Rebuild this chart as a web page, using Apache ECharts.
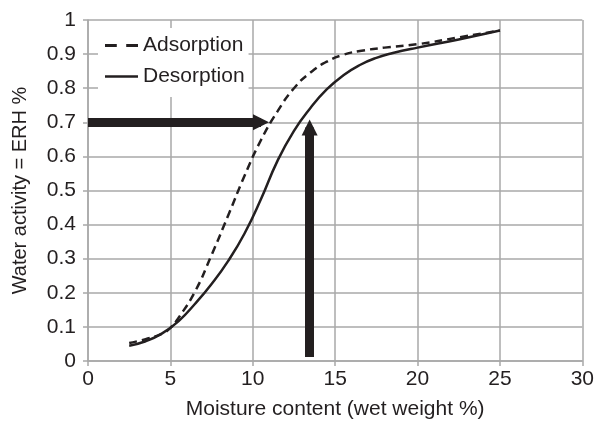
<!DOCTYPE html>
<html>
<head>
<meta charset="utf-8">
<script src="https://cdn.jsdelivr.net/npm/echarts@6/dist/echarts.min.js"></script>
<style>
  html, body { margin: 0; padding: 0; background: #fff; }
  #chart { width: 597px; height: 425px; }
</style>
</head>
<body>
<div id="chart"></div>
<script>
// Moisture sorption isotherms: [moisture content %, water activity]
const adsorption = [
  [2.5, 0.053], [3.5, 0.064], [4.5, 0.08], [5.0, 0.097], [5.5, 0.127], [6.5, 0.204],
  [7.5, 0.311], [8.5, 0.426], [9.5, 0.543], [10.5, 0.648], [11.5, 0.732], [12.5, 0.8],
  [13.5, 0.846], [14.5, 0.878], [15.5, 0.898], [16.5, 0.909], [18.0, 0.919],
  [20.0, 0.929], [22.5, 0.949], [25.0, 0.969]
];
const desorption = [
  [2.5, 0.045], [3.5, 0.058], [4.5, 0.081], [5.5, 0.117], [6.5, 0.168], [7.5, 0.226],
  [8.5, 0.293], [9.5, 0.374], [10.5, 0.475], [11.5, 0.587], [12.5, 0.675], [13.5, 0.742],
  [14.5, 0.797], [15.5, 0.838], [16.5, 0.868], [17.5, 0.889], [18.5, 0.903],
  [20.0, 0.919], [22.5, 0.943], [25.0, 0.969]
];
// Guide arrows (shaft ends; the arrowhead extends a little past them)
const arrowAcross = [[0, 0.7], [10.5, 0.7]];
const arrowUp = [[13.45, 0.012], [13.45, 0.685]];

const xTicks = { min: 0, max: 30, interval: 5 };
const yTicks = { min: 0, max: 1, interval: 0.1 };

const ink = '#231f20';
const gridGrey = '#a8a8a8';
const font = 'Liberation Sans, Arial, sans-serif';

const chart = echarts.init(document.getElementById('chart'));
chart.setOption({
  animation: false,
  backgroundColor: '#fff',
  grid: { left: 88, right: 14, top: 20, bottom: 63 },
  legend: {
    left: 98, top: 28,
    orient: 'vertical',
    backgroundColor: '#fff',
    padding: [7, 4, 10, 7],
    itemWidth: 33, itemHeight: 14, itemGap: 10,
    textStyle: { fontFamily: font, fontSize: 21, color: ink },
    data: [
      { name: 'Adsorption', icon: 'path://M0,6H10V8.5H0ZM18,6H28V8.5H18Z' },
      { name: 'Desorption', icon: 'path://M0,6H33V8.5H0Z' }
    ],
    itemStyle: { color: ink }
  },
  xAxis: {
    type: 'value',
    min: xTicks.min, max: xTicks.max, interval: xTicks.interval,
    name: 'Moisture content (wet weight %)',
    nameLocation: 'middle', nameGap: 38,
    nameTextStyle: { fontFamily: font, fontSize: 21, color: ink },
    axisLine: { show: true, lineStyle: { color: gridGrey, width: 1.5 } },
    axisTick: { show: true, length: 5, lineStyle: { color: gridGrey, width: 1.5 } },
    axisLabel: { fontFamily: font, fontSize: 21, color: ink, margin: 8 },
    splitLine: { show: true, lineStyle: { color: gridGrey, width: 1.5 } }
  },
  yAxis: {
    type: 'value',
    min: yTicks.min, max: yTicks.max, interval: yTicks.interval,
    name: 'Water activity = ERH %',
    nameLocation: 'middle', nameGap: 58,
    nameTextStyle: { fontFamily: font, fontSize: 20, color: ink },
    axisLine: { show: true, lineStyle: { color: gridGrey, width: 1.5 } },
    axisTick: { show: true, length: 5, lineStyle: { color: gridGrey, width: 1.5 } },
    axisLabel: {
      fontFamily: font, fontSize: 21, color: ink, margin: 12,
      formatter: v => String(Math.round(v * 10) / 10)
    },
    splitLine: { show: true, lineStyle: { color: gridGrey, width: 1.5 } }
  },
  series: [
    {
      name: 'Adsorption', type: 'line', data: adsorption,
      smooth: 0.5, showSymbol: false, z: 3,
      lineStyle: { color: ink, width: 2.5, type: [8, 5] },
      itemStyle: { color: ink }
    },
    {
      name: 'Desorption', type: 'line', data: desorption,
      smooth: 0.5, showSymbol: false, z: 3,
      lineStyle: { color: ink, width: 2.5 },
      itemStyle: { color: ink }
    },
    {
      type: 'lines', coordinateSystem: 'cartesian2d', z: 4,
      symbol: ['none', 'triangle'], symbolSize: [22, 16],
      lineStyle: { color: ink, width: 9, opacity: 1 },
      data: [{ coords: arrowAcross }, { coords: arrowUp }]
    }
  ]
});
</script>
</body>
</html>
